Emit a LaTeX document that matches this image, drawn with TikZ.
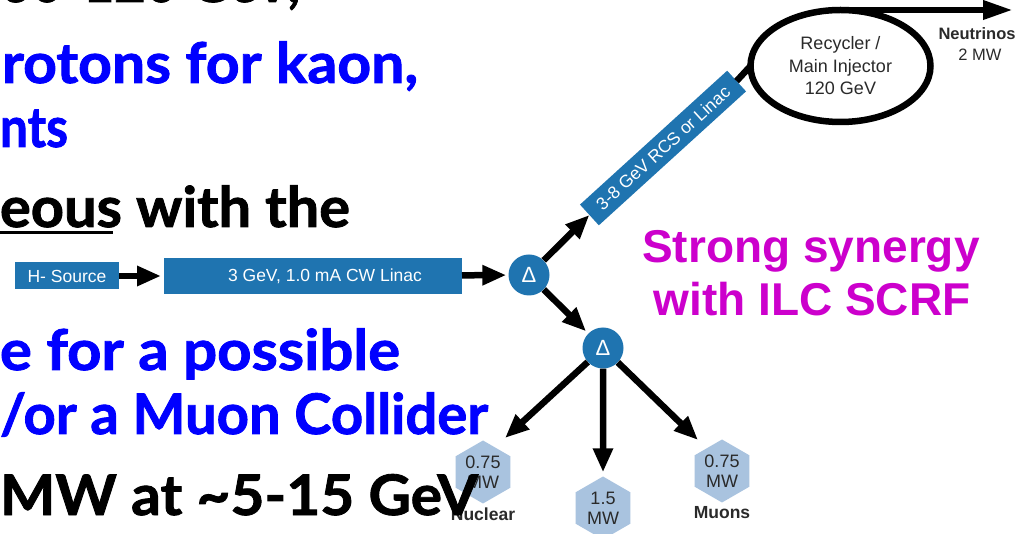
\documentclass[tikz,border=0pt]{standalone}
\usepackage{fontspec}
\usepackage{graphicx}
\setmainfont{Liberation Sans}
\newfontfamily\slidefont{Lato}[BoldFeatures={FakeBold=1.5}]
\usetikzlibrary{arrows.meta,shapes.geometric}
\definecolor{dgblue}{HTML}{1F74B0}
\definecolor{hexfill}{HTML}{A9C3DF}
\definecolor{synmag}{HTML}{CC00CC}
\definecolor{slideblue}{HTML}{0000FF}
\definecolor{hextext}{HTML}{2A2A2A}
\newcommand\fitw[2]{\resizebox{#1}{\height}{#2}}
\begin{document}
\begin{tikzpicture}[x=1pt,y=-1pt,
  slide/.style={anchor=base east, inner sep=0pt, outer sep=0pt, font=\slidefont\bfseries\fontsize{56}{60}\selectfont},
  bluebox/.style={fill=dgblue, text=white, inner sep=0pt, outer sep=0pt, font=\fontsize{17.5}{20}\selectfont},
  delta/.style={circle, fill=dgblue, text=white, minimum size=41pt, inner sep=0pt, font=\fontsize{22}{22}\selectfont},
  hexnode/.style={regular polygon, regular polygon sides=6, shape border rotate=30, fill=hexfill, minimum size=63pt, inner sep=0pt, align=center, text=hextext, font=\fontsize{18}{20}\selectfont},
  beam/.style={line width=6.5pt, -{Triangle[length=24pt,width=19pt]}},
  lbl/.style={text=hextext, inner sep=0pt, font=\bfseries\fontsize{17.5}{20}\selectfont},
  synergy/.style={anchor=base, text=synmag, inner sep=0pt, font=\bfseries\fontsize{46}{53}\selectfont}
]
\useasboundingbox (0,0) rectangle (1021,534);
\clip (0,0) rectangle (1021,534);
\fill[white] (0,0) rectangle (1021,534);

% diagram nodes
\node[bluebox, minimum width=104pt, minimum height=27pt] (src) at (67,276) {H- Source};
\node[bluebox, minimum width=298pt, minimum height=36pt] (linac) at (313,276) {\hspace*{24pt}3 GeV, 1.0 mA CW Linac};
\node[delta] (d1) at (529,275) {Δ};
\node[delta] (d2) at (603,348) {Δ};
\node[bluebox, rotate=42.3, minimum width=199pt, minimum height=28pt] (rcs) at (663,148) {3-8 GeV RCS or Linac};
\node[ellipse, draw, line width=6.5pt, minimum width=180pt, minimum height=112pt, inner sep=0pt, outer sep=0pt, align=center, font=\fontsize{18}{22.5}\selectfont, text=hextext] (ring) at (840.5,66) {Recycler /\\Main Injector\\120 GeV};
\coordinate (nu) at (1013,10);

\node[hexnode] (hexL) at (483,472) {0.75\\MW};
\node[hexnode] (hexM) at (603,508) {1.5\\MW};
\node[hexnode] (hexR) at (722,471) {0.75\\MW};
\node[lbl] (nuc) at (483,514) {Nuclear};
\node[lbl] (muo) at (722,513) {Muons};
\node[lbl, font=\bfseries\fontsize{16.5}{20}\selectfont] (neu) at (977,34) {Neutrinos};
\node[lbl, font=\fontsize{16.5}{20}\selectfont] (neu2) at (980,55) {2 MW};

% connectors
\draw[beam, shorten >=3pt] (src) -- (linac);
\draw[beam, shorten >=2pt] (linac) -- (d1);
\draw[beam] (d1) -- (rcs.west);
\draw[line width=6.5pt] (rcs.east) -- (ring.west);
\draw[line width=6.5pt, -{Triangle[length=30pt,width=18pt]}] (ring.north) -- (ring.north -| nu);
\draw[beam, shorten >=3pt] (d1) -- (d2);
\draw[beam] (d2) -- ([shift={(22,-34)}]hexL.center);
\draw[beam, shorten >=4pt] (d2) -- (hexM);
\draw[beam] (d2) -- ([shift={(-24,-31)}]hexR.center);

% synergy text
\node[synergy] (syn1) at (811,263) {Strong synergy};
\node[synergy] (syn2) at (812,316) {with ILC SCRF};

% slide text
\node[slide] (t0) at (300,2) {\fitw{300pt}{60-120 GeV,}};
\node[slide, text=slideblue] (t1) at (418,83) {\fitw{416pt}{rotons for kaon,}};
\node[slide, text=slideblue] (t2) at (68,147) {\fitw{68pt}{nts}};
\node[slide] (t3) at (350,227) {\fitw{350pt}{eous with the}};
\draw[line width=3pt] (0,232.5) -- (113,232.5);
\node[slide, text=slideblue] (t4) at (400,370) {\fitw{400pt}{e for a possible}};
\node[slide, text=slideblue] (t5) at (488,434) {\fitw{488pt}{/or a Muon Collider}};
\node[slide] (t6) at (478,515) {\fitw{478pt}{MW at \textasciitilde 5-15 GeV}};
\end{tikzpicture}
\end{document}
